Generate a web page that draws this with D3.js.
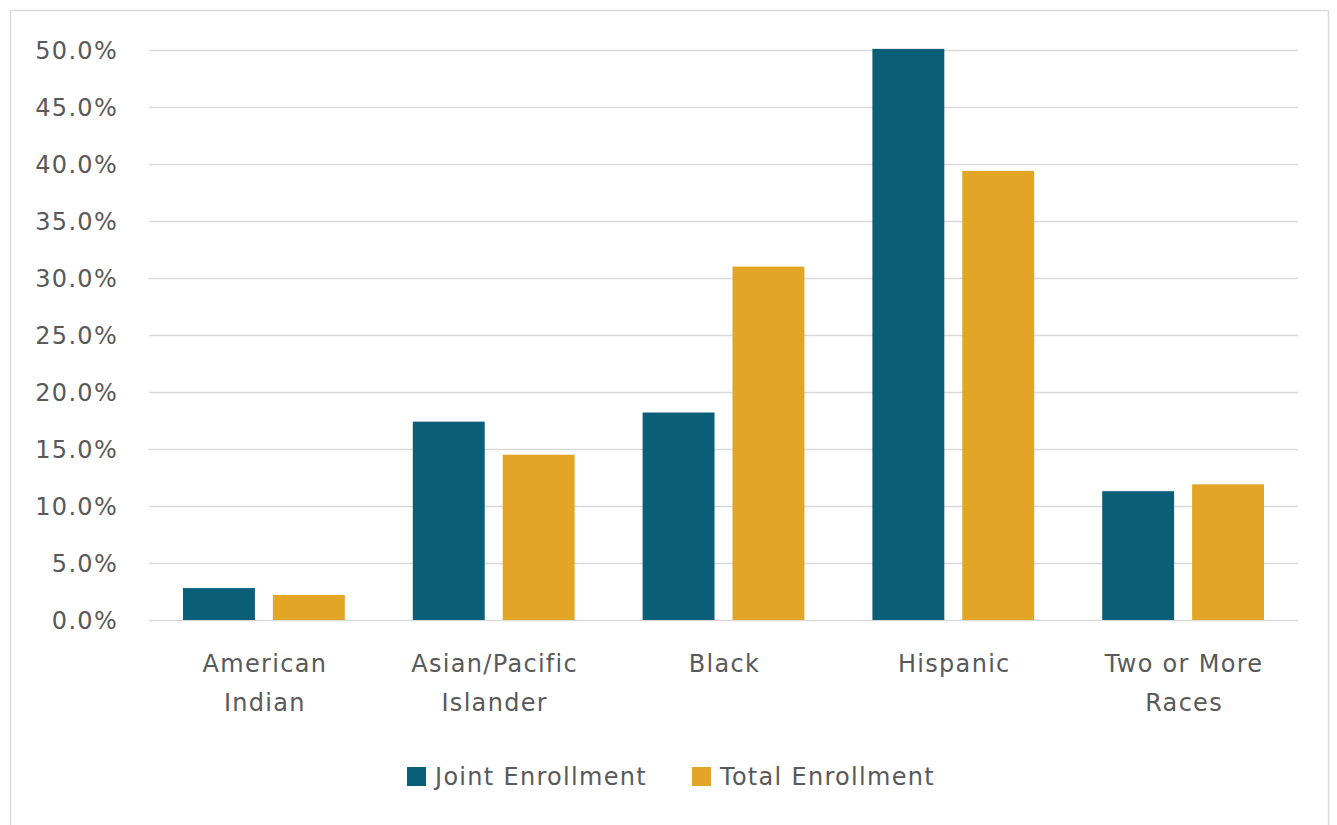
<!DOCTYPE html>
<html>
<head>
<meta charset="utf-8">
<script src="https://cdn.jsdelivr.net/npm/d3@7"></script>
<style>
  html, body { margin: 0; padding: 0; background: #fff; }
  svg { display: block; }
  text { font-family: "DejaVu Sans", "Open Sans", sans-serif; fill: #595959; letter-spacing: 1.3px; }
</style>
</head>
<body>
<script>
const categories = ["American Indian", "Asian/Pacific Islander", "Black", "Hispanic", "Two or More Races"];
const categoryLines = [["American", "Indian"], ["Asian/Pacific", "Islander"], ["Black"], ["Hispanic"], ["Two or More", "Races"]];
const seriesNames = ["Joint Enrollment", "Total Enrollment"];
const jointEnrollment = [2.8, 17.4, 18.2, 50.1, 11.3];
const totalEnrollment = [2.2, 14.5, 31.0, 39.4, 11.9];
const yTicks = [0, 5, 10, 15, 20, 25, 30, 35, 40, 45, 50];
const colors = ["#0B5E78", "#E2A526"];

const W = 1337, H = 825;
const svg = d3.select("body").append("svg").attr("width", W).attr("height", H);

// outer chart border
svg.append("rect").attr("x", 10.5).attr("y", 10.5).attr("width", 1318).attr("height", 830)
  .attr("fill", "#fff").attr("stroke", "#d9d9d9").attr("stroke-width", 1.5);

const plot = { left: 149, right: 1298, top: 50, bottom: 620 };

const x0 = d3.scaleBand().domain(categories).range([plot.left, plot.right]).paddingInner(0).paddingOuter(0);
const x1 = d3.scaleBand().domain(seriesNames).range([34, x0.bandwidth() - 34]).paddingInner(0.2);
const y = d3.scaleLinear().domain([0, 50]).range([plot.bottom, plot.top]);

// gridlines
svg.append("g").selectAll("line").data(yTicks).join("line")
  .attr("x1", plot.left).attr("x2", plot.right)
  .attr("y1", d => Math.round(y(d)) + 0.5).attr("y2", d => Math.round(y(d)) + 0.5)
  .attr("stroke", "#d9d9d9").attr("stroke-width", 1.5);

// y axis labels
const yAxis = d3.axisLeft(y).tickValues(yTicks).tickFormat(d => d.toFixed(1) + "%").tickSize(0).tickPadding(0);
const gy = svg.append("g").attr("transform", `translate(118,0)`).call(yAxis);
gy.select(".domain").remove();
gy.attr("font-family", null).attr("font-size", null);
gy.selectAll("text").style("font-size", "24px").attr("fill", "#595959").attr("dy", "0.36em");

// bars
const data = categories.map((c, i) => ({ cat: c, vals: [jointEnrollment[i], totalEnrollment[i]] }));
const groups = svg.append("g").selectAll("g").data(data).join("g")
  .attr("transform", d => `translate(${x0(d.cat)},0)`);
groups.selectAll("rect").data(d => d.vals.map((v, j) => ({ name: seriesNames[j], v, j }))).join("rect")
  .attr("x", d => x1(d.name)).attr("width", x1.bandwidth())
  .attr("y", d => y(d.v)).attr("height", d => y(0) - y(d.v))
  .attr("fill", d => colors[d.j]);

// category labels
const gx = svg.append("g");
categories.forEach((c, i) => {
  const cx = x0(c) + x0.bandwidth() / 2 + 1;
  const t = gx.append("text").attr("text-anchor", "middle").style("font-size", "24px");
  categoryLines[i].forEach((line, k) => {
    t.append("tspan").attr("x", cx).attr("y", 672 + k * 39).text(line);
  });
});

// legend
const legendX = [407, 692];
const leg = svg.append("g");
seriesNames.forEach((s, i) => {
  leg.append("rect").attr("x", legendX[i]).attr("y", 767).attr("width", 19).attr("height", 19).attr("fill", colors[i]);
  leg.append("text").attr("x", legendX[i] + 28).attr("y", 785).style("font-size", "24px").text(s);
});
</script>
</body>
</html>
